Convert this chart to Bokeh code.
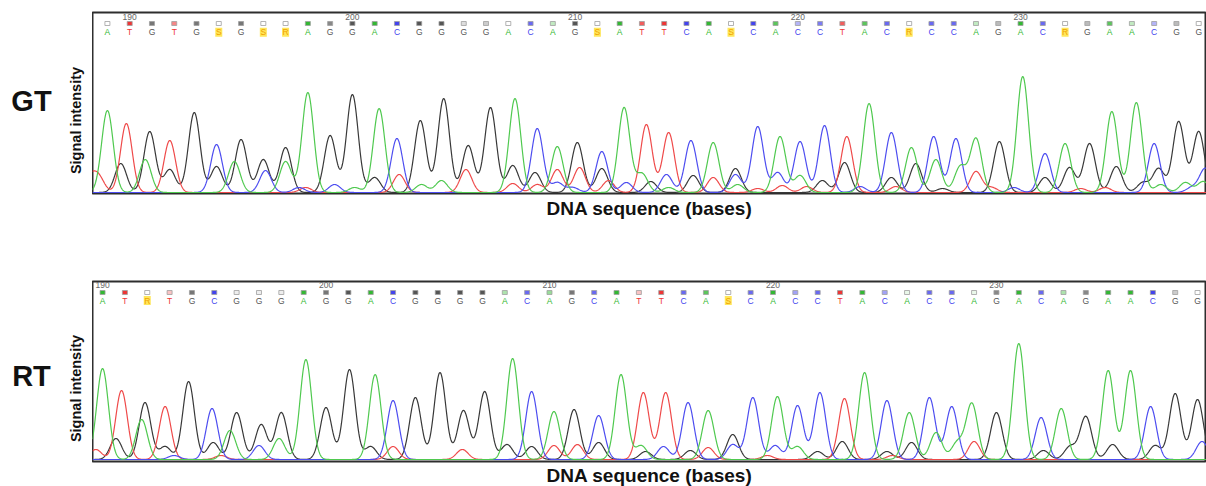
import numpy as np
from bokeh.plotting import figure
from bokeh.models import Range1d
from bokeh.layouts import column, row
from bokeh.embed import file_html
from bokeh.resources import INLINE
from bokeh.core.properties import value

# ---------------- data ----------------
gt_start = 189
gt_bases = list("ATGTGSGSRAGGACGGG" "GACAGSATTCASCACC" "TACRCCAGACRGAACGG")
gt_qual = [0, 1, .8, .6, .8, 0, .8, 0, 0, 1, .7, 1, 1, 1, 1, 1, .2,
           .3, 0, .8, .3, 1, 0, 1, .8, 1, 1, 1, 0, 1, .8, .4, .7,
           .8, .8, .8, 0, .8, .8, .3, .4, 1, .8, 0, .4, .8, .3, .4, .4, 0]
rt_start = 190
rt_bases = list("ATRTGCGGGAGGACGGG" "GACAGCATTCASCACC" "TACACCAGACAGAACGG")
rt_qual = [1, 1, 0, .3, .8, 1, .1, .1, .1, 1, .8, 1, 1, 1, 1, 1, 1,
           1, .4, .8, .5, .8, .8, 1, .3, 1, .8, .8, 0, .8, 1, .5, .8,
           1, 1, .5, .1, .8, .8, .1, .7, 1, .8, .4, .7, 1, 1, 1, .3, 0]
tick_numbers = [190, 200, 210, 220, 230]
x_title = "DNA sequence (bases)"
y_title = "Signal intensity"

# peak positions (base units) and heights, per dye channel
gt_A_pos = [189.0, 190.7, 194.7, 197.0, 198.0, 200.1, 201.2, 203.1, 204.0, 207.3, 209.2, 212.2, 213.0,
            214.2, 216.2, 217.3, 219.2, 220.1, 223.2, 225.1, 226.2, 227.3, 228.0, 230.1, 232.0, 234.1,
            235.2, 236.3, 237.4, 238.2]
gt_A_h = [82, 33, 31, 31, 100, 5, 84, 8, 12, 94, 46, 85, 19,
          5, 50, 8, 56, 17, 89, 45, 33, 26, 54, 116, 49, 81,
          90, 8, 10, 11]
gt_C_pos = [193.9, 196.1, 197.6, 199.2, 202.0, 208.3, 209.2, 209.9, 211.2, 212.3, 214.1, 215.2, 217.2,
            218.2, 219.1, 220.1, 221.2, 222.8, 224.2, 226.1, 227.1, 229.7, 231.1, 236.0, 237.7, 238.3]
gt_C_h = [48, 22, 5, 8, 54, 64, 10, 5, 41, 10, 18, 52, 18,
          66, 20, 51, 67, 6, 60, 56, 54, 5, 39, 49, 5, 24]
gt_G_pos = [189.6, 190.9, 191.8, 192.9, 193.9, 195.0, 196.0, 197.0, 199.0, 200.0, 201.0, 203.05, 204.1,
            205.2, 206.2, 207.2, 208.2, 210.1, 211.2, 213.4, 215.3, 217.2, 221.1, 222.1, 224.2, 225.3,
            226.5, 229.05, 231.1, 232.2, 233.1, 234.3, 235.5, 236.2, 237.1, 238.0]
gt_G_h = [29, 61, 23, 80, 26, 53, 33, 45, 57, 98, 15, 72, 94,
          47, 85, 27, 20, 50, 24, 11, 17, 24, 12, 30, 15, 29,
          4, 51, 15, 25, 49, 26, 10, 24, 71, 61]
gt_T_pos = [188.2, 188.6, 189.85, 191.8, 197.9, 202.1, 205.1, 207.2, 208.3, 209.2, 210.2, 211.5, 213.2,
            214.2, 216.2, 218.2, 219.3, 220.4, 222.2, 224.4, 228.0, 228.7, 232.7, 233.8]
gt_T_h = [14, 15, 69, 52, 5, 18, 23, 9, 8, 23, 25, 12, 68,
          60, 15, 4, 7, 6, 56, 6, 21, 5, 4, 5]

rt_A_pos = [190.0, 191.75, 195.7, 197.9, 199.1, 202.2, 208.35, 210.2, 213.2, 214.1, 217.1, 220.2, 221.1,
            224.1, 226.1, 227.3, 228.25, 228.9, 231.0, 232.9, 235.0, 236.0]
rt_A_h = [91, 40, 29, 21, 100, 85, 101, 48, 85, 14, 49, 63, 13,
          87, 47, 27, 17, 56, 116, 51, 89, 89]
rt_C_pos = [193.2, 194.9, 197.0, 203.0, 209.2, 212.2, 215.1, 216.2, 218.2, 219.1, 220.1, 221.1, 222.1,
            225.1, 227.0, 228.0, 232.0, 236.9, 239.2]
rt_C_h = [4, 51, 14, 59, 68, 44, 13, 57, 15, 62, 14, 54, 67,
          59, 62, 53, 42, 53, 18]
rt_G_pos = [190.6, 191.9, 192.8, 193.85, 194.95, 196.0, 197.1, 198.0, 200.0, 201.05, 202.0, 204.0, 205.1,
            206.15, 207.1, 208.1, 209.2, 211.1, 212.2, 214.3, 216.3, 218.2, 222.0, 223.1, 225.1, 226.2,
            230.0, 232.1, 233.3, 234.0, 235.2, 237.1, 238.0, 239.0]
rt_G_h = [21, 57, 13, 78, 17, 47, 35, 47, 52, 90, 13, 62, 87,
          49, 68, 15, 13, 50, 17, 8, 9, 25, 8, 18, 8, 17,
          47, 9, 13, 43, 15, 14, 66, 60]
rt_T_pos = [189.7, 190.85, 192.8, 195.3, 203.0, 206.1, 210.2, 211.25, 214.2, 215.2, 217.1, 219.75,
            223.2, 225.35, 229.0]
rt_T_h = [10, 69, 53, 4, 13, 10, 14, 15, 67, 67, 12, 4,
          61, 4, 18]

# ---------------- styling ----------------
TRACE = {"A": "#4fc94f", "C": "#4d4df0", "G": "#383838", "T": "#ef4a4a"}
LETTER = {"A": "#33b833", "C": "#4343ee", "G": "#555555", "T": "#ee3535"}
AMBIG = "#f0a000"
FONT = value("Liberation Sans")
SIGMA = 0.26
LEFT_W = 92
FRAME_W = 1114


def trace(xs, pos, hts):
    y = np.zeros_like(xs)
    for p_, h_ in zip(pos, hts):
        y += h_ * np.exp(-0.5 * ((xs - p_) / SIGMA) ** 2)
    return y


def side(name, top, bottom, tb, bb, name_y, lab_y):
    # left strip holding the panel name and the vertical axis title; its frame is
    # aligned with the chart frame, y measured in page pixels from the top
    s = figure(frame_width=LEFT_W, frame_height=bottom - top, x_range=Range1d(0, LEFT_W),
               y_range=Range1d(bottom, top), min_border_left=0, min_border_right=0,
               min_border_top=tb, min_border_bottom=bb, toolbar_location=None, output_backend="svg")
    s.axis.visible = False
    s.grid.visible = False
    s.outline_line_color = None
    s.text(x=[31], y=[name_y], text=[name], text_font=FONT, text_font_size="29px",
           text_font_style="bold", text_color="#111111", text_align="center", text_baseline="middle")
    s.text(x=[75], y=[lab_y], text=[y_title], angle=np.pi / 2, text_font=FONT, text_font_size="14.5px",
           text_font_style="bold", text_color="#111111", text_align="center", text_baseline="middle")
    return s


def panel(start, bases, qual, peaks, xr, yr, fh, tb, bb, standoff, rows):
    p = figure(frame_width=FRAME_W, frame_height=fh, x_range=Range1d(*xr), y_range=Range1d(*yr),
               min_border_left=0, min_border_right=0, min_border_top=tb, min_border_bottom=bb,
               toolbar_location=None, output_backend="svg")
    p.grid.visible = False
    p.yaxis.visible = False
    p.outline_line_color = "#2e2e2e"
    p.outline_line_width = 2
    ax = p.xaxis
    ax.ticker = []
    ax.axis_line_color = None
    ax.major_tick_out = 0
    ax.minor_tick_out = 0
    ax.major_label_standoff = 0
    ax.axis_label = x_title
    ax.axis_label_text_font = "Liberation Sans"
    ax.axis_label_text_font_style = "bold"
    ax.axis_label_text_color = "#111111"
    ax.axis_label_text_font_size = "19px"
    ax.axis_label_standoff = standoff

    xs = np.arange(xr[0], xr[1], 0.02)
    for ch in ["G", "T", "C", "A"]:
        pos, hts = peaks[ch]
        p.line(xs, trace(xs, pos, hts), line_color=TRACE[ch], line_width=1.2)

    posx = [start + i for i in range(len(bases))]
    col = [LETTER.get(b, AMBIG) for b in bases]
    amb_x = [x for x, b in zip(posx, bases) if b not in "ACGT"]
    y_let, y_sq, y_num = rows
    p.rect(x=amb_x, y=[y_let] * len(amb_x), width=7, height=9, width_units="screen",
           height_units="screen", fill_color="#ffe75a", line_color=None)
    p.text(x=posx, y=[y_let] * len(posx), text=bases, text_color=col, text_font=FONT,
           text_font_size="8.5px", text_align="center", text_baseline="middle")
    p.rect(x=posx, y=[y_sq] * len(posx), width=5, height=4, width_units="screen",
           height_units="screen", fill_color=col, fill_alpha=qual, line_color="#a0a0a0",
           line_width=0.8)
    p.text(x=tick_numbers, y=[y_num] * len(tick_numbers), text=[str(t) for t in tick_numbers],
           text_color="#666666", text_font=FONT, text_font_size="8.5px", text_align="center",
           text_baseline="middle")
    return p


gt_peaks = {"A": (gt_A_pos, gt_A_h), "C": (gt_C_pos, gt_C_h), "G": (gt_G_pos, gt_G_h), "T": (gt_T_pos, gt_T_h)}
rt_peaks = {"A": (rt_A_pos, rt_A_h), "C": (rt_C_pos, rt_C_h), "G": (rt_G_pos, rt_G_h), "T": (rt_T_pos, rt_T_h)}

# top block: 240 px tall (frame 12..193); bottom block: 246 px tall (frame 281..461)
p1 = panel(gt_start, gt_bases, gt_qual, gt_peaks, (188.33, 238.35), (-1, 180), 181, 12, 47, 4,
           (160.3, 169, 176))
p2 = panel(rt_start, rt_bases, rt_qual, rt_peaks, (189.55, 239.4), (-2, 178), 180, 41, 25, 3,
           (159, 167, 175))
s1 = side("GT", 12, 193, 12, 47, 100, 120)
s2 = side("RT", 281, 461, 41, 25, 375, 388)

layout = column(row(s1, p1, spacing=0), row(s2, p2, spacing=0), spacing=0)
open("out.html", "w").write(file_html(layout, INLINE))
